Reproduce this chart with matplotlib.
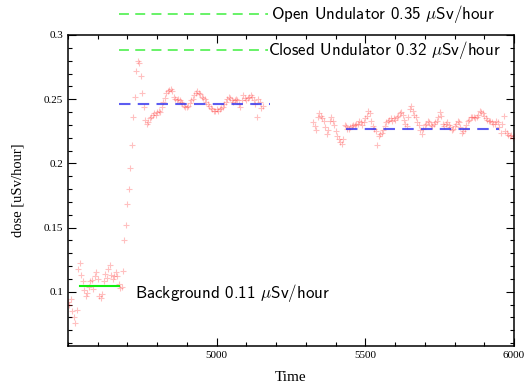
import numpy as np
import matplotlib
matplotlib.use("Agg")
import matplotlib.pyplot as plt
from matplotlib.ticker import MultipleLocator, FixedLocator, FormatStrFormatter

plt.rcParams['mathtext.fontset'] = 'cm'

# ---- data ----
seg1_start, seg1_step = 4500, 5
seg1_values = [
    0.092, 0.090, 0.094, 0.085, 0.080, 0.076, 0.086, 0.118, 0.122, 0.113,
    0.108, 0.101, 0.097, 0.099, 0.104, 0.108, 0.109, 0.102, 0.112, 0.115,
    0.110, 0.097, 0.095, 0.098, 0.108, 0.114, 0.111, 0.118, 0.121, 0.113,
    0.110, 0.112, 0.115, 0.112, 0.106, 0.103, 0.104, 0.116,
    0.140, 0.152, 0.168, 0.180, 0.196, 0.214, 0.236, 0.252, 0.272, 0.280,
    0.278, 0.268, 0.255, 0.244, 0.234,
    0.231, 0.232, 0.235, 0.236, 0.238, 0.239, 0.238, 0.240, 0.241, 0.240,
    0.244, 0.248, 0.251, 0.255, 0.256, 0.257, 0.258, 0.256, 0.252, 0.250,
    0.249, 0.250, 0.249, 0.248, 0.247, 0.245, 0.244, 0.244, 0.245, 0.247,
    0.249, 0.250, 0.253, 0.255, 0.256, 0.255, 0.254, 0.252, 0.251, 0.250,
    0.248, 0.246, 0.245, 0.243, 0.242, 0.241, 0.241, 0.242, 0.241, 0.242,
    0.243, 0.244, 0.246, 0.248, 0.250, 0.252, 0.251, 0.249, 0.248, 0.249,
    0.250, 0.249, 0.246, 0.244, 0.249, 0.253, 0.251, 0.249, 0.251, 0.252,
    0.253, 0.252, 0.249, 0.246, 0.236, 0.250, 0.248, 0.243, 0.245,
]
seg2_start, seg2_step = 5325, 5
seg2_values = [
    0.232, 0.229, 0.226, 0.236, 0.239, 0.237, 0.235, 0.233, 0.228, 0.223,
    0.226, 0.233, 0.236, 0.233, 0.230, 0.225, 0.221, 0.219, 0.217, 0.215,
    0.219, 0.230, 0.229, 0.227, 0.227, 0.228, 0.229, 0.230, 0.230, 0.231,
    0.231, 0.233, 0.232, 0.230, 0.232, 0.235, 0.237, 0.241, 0.239, 0.233,
    0.229, 0.227, 0.225, 0.214, 0.221, 0.223, 0.224, 0.226, 0.229, 0.232,
    0.233, 0.234, 0.235, 0.233, 0.235, 0.234, 0.236, 0.237, 0.239, 0.240,
    0.238, 0.234, 0.231, 0.229, 0.236, 0.242, 0.245, 0.241, 0.238, 0.236,
    0.232, 0.230, 0.226, 0.223, 0.227, 0.230, 0.231, 0.233, 0.232, 0.230,
    0.229, 0.231, 0.232, 0.233, 0.236, 0.240, 0.237, 0.231, 0.229, 0.231,
    0.232, 0.230, 0.228, 0.226, 0.227, 0.229, 0.231, 0.233, 0.232, 0.228,
    0.224, 0.225, 0.227, 0.230, 0.233, 0.234, 0.236, 0.236, 0.236, 0.235,
    0.236, 0.238, 0.241, 0.240, 0.239, 0.237, 0.235, 0.234, 0.233, 0.233,
    0.232, 0.231, 0.231, 0.233, 0.232, 0.228, 0.224, 0.231, 0.237, 0.225,
    0.224, 0.222, 0.221, 0.222, 0.220, 0.221,
]

# reference levels: (x_start, x_end, y)
open_level = (4670, 5172, 0.3164)
closed_level = (4670, 5172, 0.2883)
background_level = (4540, 4670, 0.1042)
mean_level_1 = (4670, 5180, 0.2462)
mean_level_2 = (5434, 5949, 0.2268)

open_label = r'Open Undulator 0.35 $\mu$Sv/hour'
closed_label = r'Closed Undulator 0.32 $\mu$Sv/hour'
background_label = r'Background 0.11 $\mu$Sv/hour'

x_major = [5000, 5500, 6000]
y_major = [0.1, 0.15, 0.2, 0.25, 0.3]

# ---- figure ----
fig = plt.figure(figsize=(5.25, 3.85), dpi=100)
ax = fig.add_axes([68 / 525, 1 - 346 / 385, (514 - 68) / 525, (346 - 35) / 385])

t1 = seg1_start + seg1_step * np.arange(len(seg1_values))
t2 = seg2_start + seg2_step * np.arange(len(seg2_values))
for t, v in ((t1, seg1_values), (t2, seg2_values)):
    ax.plot(t, v, '+', color='#ff3030', alpha=0.3, markersize=4.5, mew=0.8, ls='none')

dash = (5.5, 3.5)
for lvl in (open_level, closed_level):
    ax.plot([lvl[0], lvl[1]], [lvl[2], lvl[2]], color='#33ee33', alpha=0.8, lw=1.3,
            dashes=dash, clip_on=False)
for lvl in (mean_level_1, mean_level_2):
    ax.plot([lvl[0], lvl[1]], [lvl[2], lvl[2]], color='#3333ee', alpha=0.8, lw=1.5,
            dashes=dash)
ax.plot([background_level[0], background_level[1]], [background_level[2]] * 2,
        color='#11ee11', lw=1.5)

lab_font = dict(fontsize=12.2, family=['cmss10', 'DejaVu Sans'], ha='left', va='center')
ax.text(5182, open_level[2], open_label, clip_on=False, **lab_font)
ax.text(5174, closed_level[2], closed_label, **lab_font)
ax.text(4726, 0.0988, background_label, **lab_font)

ax.set_xlim(4500, 6000)
ax.set_ylim(0.0577, 0.3)
ax.xaxis.set_major_locator(FixedLocator(x_major))
ax.xaxis.set_minor_locator(MultipleLocator(100))
ax.yaxis.set_major_locator(FixedLocator(y_major))
ax.yaxis.set_minor_locator(MultipleLocator(0.01))
ax.yaxis.set_major_formatter(FormatStrFormatter('%g'))

ax.tick_params(which='both', direction='in', top=True, right=True,
               labelsize=8, width=0.8, colors='black')
ax.tick_params(which='major', length=6)
ax.tick_params(which='minor', length=3)
for lab in ax.get_xticklabels() + ax.get_yticklabels():
    lab.set_fontfamily('Liberation Serif')
for sp in ax.spines.values():
    sp.set_linewidth(1.1)

ax.set_xlabel('Time', fontfamily='Liberation Serif', fontsize=11, labelpad=8)
ax.set_ylabel('dose [uSv/hour]', fontfamily='Liberation Serif', fontsize=10.5, labelpad=14)

fig.savefig('out.png', dpi=100)
